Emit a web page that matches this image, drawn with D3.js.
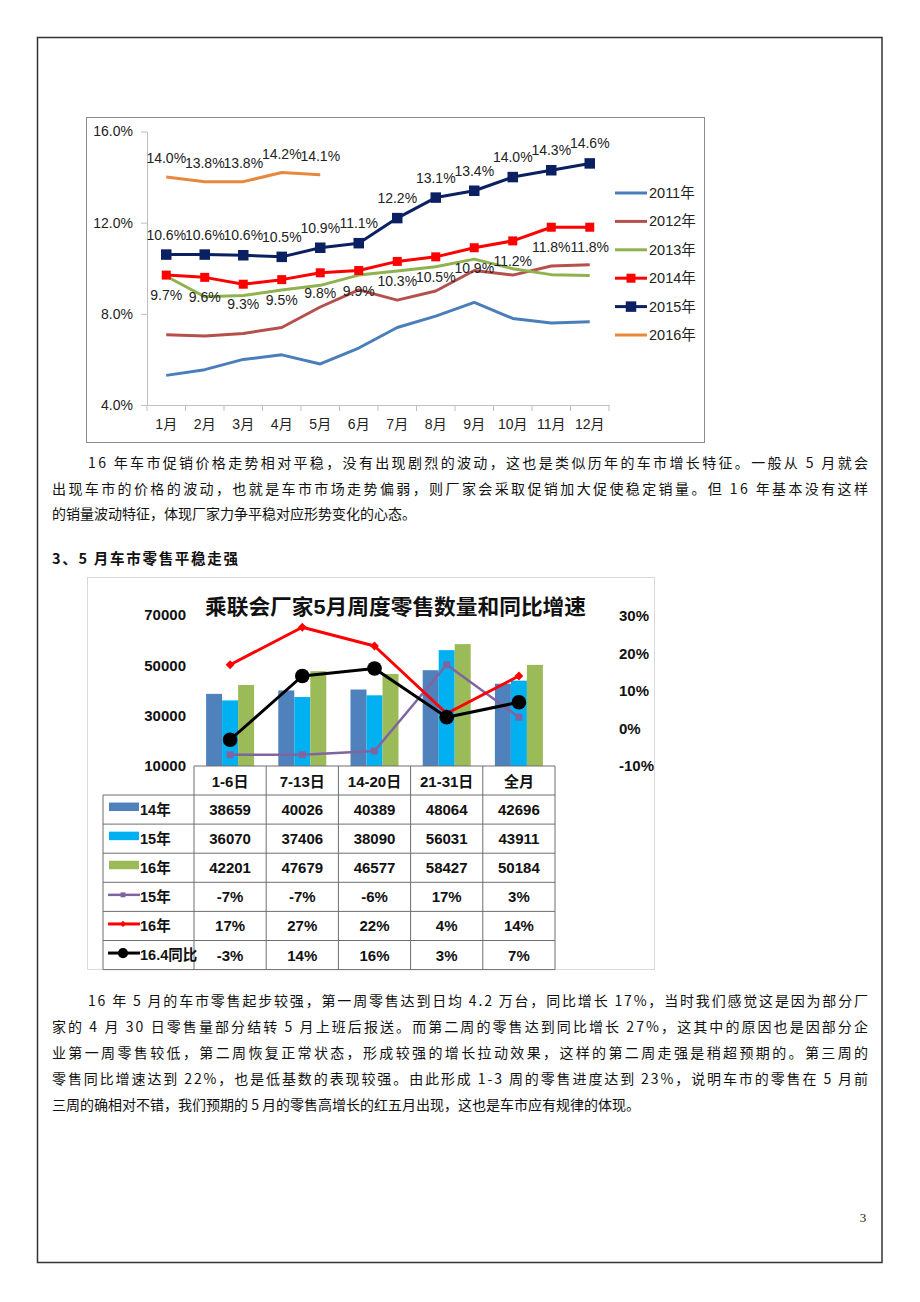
<!DOCTYPE html>
<html><head><meta charset="utf-8">
<script src="https://cdn.jsdelivr.net/npm/d3@7"></script>
<style>
html,body{margin:0;padding:0;background:#fff;}
svg{display:block;}
</style></head>
<body>
<svg id="page" width="920" height="1302"></svg>
<script>
// ---------- Chart 1 data ----------
const months = ["1月","2月","3月","4月","5月","6月","7月","8月","9月","10月","11月","12月"];
const yearNames = ["2011年","2012年","2013年","2014年","2015年","2016年"];
const s2011 = [5.3,5.55,6.0,6.2,5.8,6.5,7.4,7.9,8.5,7.8,7.6,7.65];
const s2012 = [7.08,7.03,7.14,7.4,8.3,9.05,8.6,9.0,9.9,9.7,10.1,10.15];
const s2013 = [9.65,8.75,8.8,9.05,9.25,9.7,9.88,10.07,10.4,9.98,9.72,9.68];
const s2014 = [9.7,9.6,9.3,9.5,9.8,9.9,10.3,10.5,10.9,11.2,11.8,11.8];
const s2015 = [10.6,10.6,10.57,10.5,10.9,11.1,12.2,13.1,13.4,14.0,14.3,14.6];
const s2016 = [14.0,13.8,13.8,14.2,14.1];
const yTicks1 = [4,8,12,16];

// ---------- Chart 2 data ----------
const weeks = ["1-6日","7-13日","14-20日","21-31日","全月"];
const sales14 = [38659,40026,40389,48064,42696];
const sales15 = [36070,37406,38090,56031,43911];
const sales16 = [42201,47679,46577,58427,50184];
const yoy15 = [-7,-7,-6,17,3];
const yoy16 = [17,27,22,4,14];
const yoy164 = [-3,14,16,3,7];
const leftTicks = [10000,30000,50000,70000];
const rightTicks = [-10,0,10,20,30];
const chart2Title = "乘联会厂家5月周度零售数量和同比增速";

// ---------- text ----------
const para1 = [
 "16 年车市促销价格走势相对平稳，没有出现剧烈的波动，这也是类似历年的车市增长特征。一般从 5 月就会",
 "出现车市的价格的波动，也就是车市市场走势偏弱，则厂家会采取促销加大促使稳定销量。但 16 年基本没有这样",
 "的销量波动特征，体现厂家力争平稳对应形势变化的心态。"
];
const heading = "3、5 月车市零售平稳走强";
const para2 = [
 "16 年 5 月的车市零售起步较强，第一周零售达到日均 4.2 万台，同比增长 17%，当时我们感觉这是因为部分厂",
 "家的 4 月 30 日零售量部分结转 5 月上班后报送。而第二周的零售达到同比增长 27%，这其中的原因也是因部分企",
 "业第一周零售较低，第二周恢复正常状态，形成较强的增长拉动效果，这样的第二周走强是稍超预期的。第三周的",
 "零售同比增速达到 22%，也是低基数的表现较强。由此形成 1-3 周的零售进度达到 23%，说明车市的零售在 5 月前",
 "三周的确相对不错，我们预期的 5 月的零售高增长的红五月出现，这也是车市应有规律的体现。"
];
const pageNum = "3";

const svg = d3.select("#page");
svg.append("rect").attr("width",920).attr("height",1302).attr("fill","#fff");
// page border
svg.append("rect").attr("x",37.5).attr("y",37.5).attr("width",844.5).attr("height",1225)
  .attr("fill","none").attr("stroke","#333").attr("stroke-width",1.5);

const CH = "'Liberation Sans','Noto Sans CJK SC',sans-serif";
const BODY = "'Noto Sans CJK SC','Liberation Serif',serif";

// ================= Chart 1 =================
const c1 = svg.append("g");
c1.append("rect").attr("x",86.5).attr("y",117.5).attr("width",618).attr("height",325)
  .attr("fill","#fff").attr("stroke","#8c8c8c").attr("stroke-width",1);

const x1 = d3.scaleBand().domain(months).range([147,609]);
const y1 = d3.scaleLinear().domain([4,16]).range([405,131.5]);

const yAx = c1.append("g").attr("transform","translate(147,0)")
  .call(d3.axisLeft(y1).tickValues(yTicks1).tickFormat(d=>d.toFixed(1)+"%").tickSize(6).tickSizeOuter(0).tickPadding(8));
yAx.selectAll("path,line").attr("stroke","#bfbfbf");
yAx.selectAll("text").attr("font-family",CH).attr("font-size",14).attr("fill","#222");

const xAx = c1.append("g").attr("transform","translate(0,405)")
  .call(d3.axisBottom(x1).tickSize(0).tickPadding(14).tickSizeOuter(0));
xAx.select("path").attr("stroke","#bfbfbf");
xAx.selectAll("text").attr("font-family",CH).attr("font-size",14).attr("fill","#222");
const bounds = d3.range(months.length+1).map(i=>x1.range()[0]+i*x1.step());
c1.selectAll(".xt").data(bounds).join("line")
  .attr("x1",d=>d).attr("x2",d=>d).attr("y1",405).attr("y2",411).attr("stroke","#bfbfbf");

const cx1 = (d,i)=>x1(months[i])+x1.bandwidth()/2;
const line1 = d3.line().x((d,i)=>cx1(d,i)).y(d=>y1(d));
const series1 = [
  {name:yearNames[0],data:s2011,color:"#4a7ebb",marker:null},
  {name:yearNames[1],data:s2012,color:"#b5504c",marker:null},
  {name:yearNames[2],data:s2013,color:"#8fb24f",marker:null},
  {name:yearNames[3],data:s2014,color:"#ff0000",marker:9,label:20},
  {name:yearNames[4],data:s2015,color:"#0a2062",marker:10.5,label:-20},
  {name:yearNames[5],data:s2016,color:"#e8883c",marker:null,label:-19}
];
series1.forEach(s=>{
  c1.append("path").attr("d",line1(s.data)).attr("fill","none")
    .attr("stroke",s.color).attr("stroke-width",3).attr("stroke-linejoin","round");
});
series1.forEach(s=>{
  if(s.marker){
    c1.selectAll(null).data(s.data).join("rect")
      .attr("x",(d,i)=>cx1(d,i)-s.marker/2).attr("y",d=>y1(d)-s.marker/2)
      .attr("width",s.marker).attr("height",s.marker).attr("fill",s.color);
  }
});
series1.forEach(s=>{
  if(s.label){
    c1.selectAll(null).data(s.data).join("text")
      .attr("x",(d,i)=>cx1(d,i)).attr("y",d=>y1(d)+s.label)
      .attr("text-anchor","middle").attr("dominant-baseline","central")
      .attr("font-family",CH).attr("font-size",14).attr("fill","#222")
      .text(d=>d.toFixed(1)+"%");
  }
});
const legY = d3.scalePoint().domain(yearNames).range([193,335]);
series1.forEach(s=>{
  const yy = legY(s.name);
  c1.append("line").attr("x1",615).attr("x2",647).attr("y1",yy).attr("y2",yy)
    .attr("stroke",s.color).attr("stroke-width",3);
  if(s.marker) c1.append("rect").attr("x",631-s.marker/2).attr("y",yy-s.marker/2)
    .attr("width",s.marker).attr("height",s.marker).attr("fill",s.color);
  c1.append("text").attr("x",649).attr("y",yy).attr("dominant-baseline","central")
    .attr("font-family",CH).attr("font-size",14.5).attr("fill","#222").text(s.name);
});

// ================= Text =================
function textLines(lines, startY, step, xs, xe){
  lines.forEach((t,i)=>{
    const el = svg.append("text").attr("x",xs[i]).attr("y",startY+i*step)
      .attr("dominant-baseline","central")
      .attr("font-family",BODY).attr("font-size",14).attr("fill","#111")
      .text(t);
    if(xe[i]) el.attr("textLength",xe[i]-xs[i]).attr("lengthAdjust","spacing");
  });
}
textLines(para1, 462, 25.5, [88,52,52], [868,868,null]);
svg.append("text").attr("x",52).attr("y",557).attr("dominant-baseline","central")
  .attr("font-family",BODY).attr("font-weight","bold").attr("font-size",14.5).attr("fill","#111")
  .attr("textLength",186).attr("lengthAdjust","spacing").text(heading);
textLines(para2, 999.5, 26.2, [88,52,52,52,52], [868,868,868,868,null]);
svg.append("text").attr("x",863).attr("y",1217).attr("text-anchor","middle").attr("dominant-baseline","central")
  .attr("font-family","'Liberation Serif',serif").attr("font-size",13).attr("fill","#222").text(pageNum);

// ================= Chart 2 =================
const c2 = svg.append("g");
c2.append("rect").attr("x",87.5).attr("y",577.5).attr("width",567).attr("height",392)
  .attr("fill","#fff").attr("stroke","#d9d9d9").attr("stroke-width",1);
c2.append("text").attr("x",395.5).attr("y",606).attr("text-anchor","middle").attr("dominant-baseline","central")
  .attr("font-family",CH).attr("font-weight","bold").attr("font-size",21).attr("fill","#111")
  .attr("textLength",381).attr("lengthAdjust","spacingAndGlyphs").text(chart2Title);

const x2 = d3.scaleBand().domain(weeks).range([194,555]);
const yL = d3.scaleLinear().domain([10000,70000]).range([766,615]);
const yR = d3.scaleLinear().domain([-10,30]).range([766,616]);
const xInner = d3.scaleBand().domain(["14","15","16"]).range([0,48]);

const lAx = c2.append("g").attr("transform","translate(186,0)")
  .call(d3.axisLeft(yL).tickValues(leftTicks).tickFormat(d3.format("d")).tickSize(0).tickPadding(0));
lAx.select("path").remove();
lAx.selectAll("text").attr("font-family",CH).attr("font-weight","bold").attr("font-size",15).attr("fill","#111");
const rAx = c2.append("g").attr("transform","translate(619,0)")
  .call(d3.axisRight(yR).tickValues(rightTicks).tickFormat(d=>d+"%").tickSize(0).tickPadding(0));
rAx.select("path").remove();
rAx.selectAll("text").attr("font-family",CH).attr("font-weight","bold").attr("font-size",15).attr("fill","#111");

const barSeries = [
  {key:"14",name:"14年",data:sales14,color:"#4f81bd"},
  {key:"15",name:"15年",data:sales15,color:"#00b0f0"},
  {key:"16",name:"16年",data:sales16,color:"#9bbb59"}
];
barSeries.forEach(s=>{
  c2.selectAll(null).data(s.data).join("rect")
    .attr("x",(d,i)=>x2(weeks[i])+x2.bandwidth()/2-24+xInner(s.key))
    .attr("y",d=>yL(d)).attr("width",xInner.bandwidth()).attr("height",d=>yL(10000)-yL(d))
    .attr("fill",s.color);
});
const cx2 = (d,i)=>x2(weeks[i])+x2.bandwidth()/2;
const line2 = d3.line().x((d,i)=>cx2(d,i)).y(d=>yR(d));
const lineSeries = [
  {name:"15年",data:yoy15,color:"#8064a2",w:2.5,m:"square"},
  {name:"16年",data:yoy16,color:"#ff0000",w:3,m:"diamond"},
  {name:"16.4同比",data:yoy164,color:"#000000",w:3,m:"circle"}
];
function marker(g,type,x,y,color,scale){
  scale = scale||1;
  if(type==="square") g.append("rect").attr("x",x-3.5*scale).attr("y",y-3.5*scale).attr("width",7*scale).attr("height",7*scale).attr("fill",color);
  else if(type==="diamond") g.append("path").attr("d",d3.symbol(d3.symbolDiamond2, 50*scale*scale)()).attr("transform",`translate(${x},${y})`).attr("fill",color);
  else g.append("circle").attr("cx",x).attr("cy",y).attr("r",7.3*scale).attr("fill",color);
}
lineSeries.forEach(s=>{
  c2.append("path").attr("d",line2(s.data)).attr("fill","none").attr("stroke",s.color)
    .attr("stroke-width",s.w).attr("stroke-linejoin","round");
  s.data.forEach((d,i)=>marker(c2,s.m,cx2(d,i),yR(d),s.color));
});

// table
const rowTop = 795, rowH = 29.1;
const rows = [...barSeries.map(s=>({name:s.name,vals:s.data.map(String),bar:s.color})),
              ...lineSeries.map(s=>({name:s.name,vals:s.data.map(v=>v+"%"),line:s}))];
const tg = c2.append("g").attr("stroke","#6e6e6e").attr("stroke-width",1);
const cols = d3.range(weeks.length+1).map(i=>x2.range()[0]+i*x2.step());
tg.append("line").attr("x1",194).attr("x2",555).attr("y1",766).attr("y2",766);
d3.range(rows.length+1).forEach(r=>{
  const yy = rowTop + r*rowH;
  tg.append("line").attr("x1",103).attr("x2",555).attr("y1",yy).attr("y2",yy);
});
cols.forEach(xx=>tg.append("line").attr("x1",xx).attr("x2",xx).attr("y1",766).attr("y2",rowTop+rows.length*rowH));
tg.append("line").attr("x1",103).attr("x2",103).attr("y1",rowTop).attr("y2",rowTop+rows.length*rowH);

c2.selectAll(null).data(weeks).join("text")
  .attr("x",(d)=>x2(d)+x2.bandwidth()/2).attr("y",781).attr("text-anchor","middle").attr("dominant-baseline","central")
  .attr("font-family",CH).attr("font-weight","bold").attr("font-size",15).attr("fill","#111").text(d=>d);
rows.forEach((r,ri)=>{
  const cy = rowTop + ri*rowH + rowH/2;
  r.vals.forEach((v,i)=>{
    c2.append("text").attr("x",x2(weeks[i])+x2.bandwidth()/2).attr("y",cy)
      .attr("text-anchor","middle").attr("dominant-baseline","central")
      .attr("font-family",CH).attr("font-weight","bold").attr("font-size",15).attr("fill","#111").text(v);
  });
  if(r.bar){
    c2.append("rect").attr("x",109).attr("y",cy-7).attr("width",30).attr("height",8.5).attr("fill",r.bar);
  } else {
    c2.append("line").attr("x1",108).attr("x2",140).attr("y1",cy-2).attr("y2",cy-2)
      .attr("stroke",r.line.color).attr("stroke-width",r.line.w);
    marker(c2,r.line.m,123,cy-2,r.line.color,0.7);
  }
  c2.append("text").attr("x",140).attr("y",cy).attr("dominant-baseline","central")
    .attr("font-family",CH).attr("font-weight","bold").attr("font-size",14.5).attr("fill","#111").text(r.name);
});
</script>
</body></html>
